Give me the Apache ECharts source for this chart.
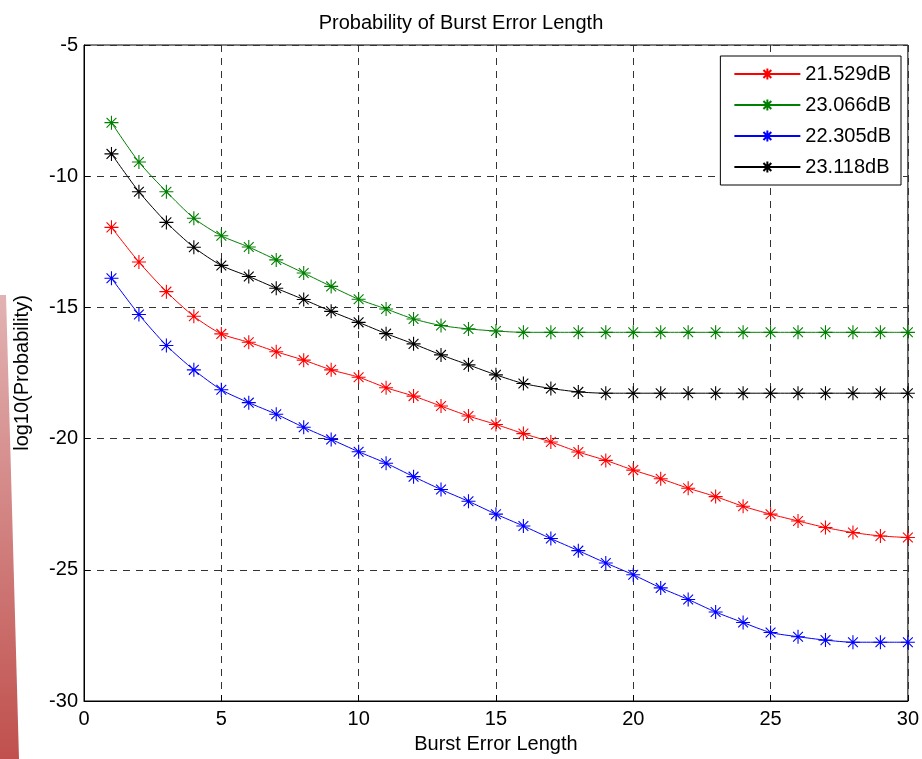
<!DOCTYPE html>
<html>
<head>
<meta charset="utf-8">
<script src="https://cdn.jsdelivr.net/npm/echarts@6/dist/echarts.min.js"></script>
<style>html,body{margin:0;padding:0;background:#fff;}#c{width:922px;height:759px;}</style>
</head>
<body>
<div id="c"></div>
<script>
const burstLength = [1,2,3,4,5,6,7,8,9,10,11,12,13,14,15,16,17,18,19,20,21,22,23,24,25,26,27,28,29,30];
const seriesNames = ['21.529dB','23.066dB','22.305dB','23.118dB'];
const red21529 = [-11.95,-13.27,-14.40,-15.34,-16.01,-16.33,-16.69,-17.01,-17.38,-17.66,-18.06,-18.38,-18.76,-19.14,-19.46,-19.81,-20.13,-20.51,-20.83,-21.20,-21.53,-21.89,-22.21,-22.58,-22.88,-23.14,-23.39,-23.58,-23.71,-23.77];
const green23066 = [-7.96,-9.46,-10.59,-11.60,-12.27,-12.70,-13.19,-13.69,-14.20,-14.69,-15.06,-15.44,-15.69,-15.82,-15.90,-15.95,-15.95,-15.95,-15.95,-15.95,-15.95,-15.95,-15.95,-15.95,-15.95,-15.95,-15.95,-15.95,-15.95,-15.95];
const blue22305 = [-13.89,-15.27,-16.45,-17.38,-18.14,-18.63,-19.07,-19.57,-20.03,-20.50,-20.94,-21.45,-21.94,-22.39,-22.88,-23.33,-23.81,-24.27,-24.74,-25.19,-25.69,-26.13,-26.61,-27.01,-27.39,-27.55,-27.68,-27.76,-27.76,-27.76];
const black23118 = [-9.15,-10.59,-11.76,-12.71,-13.40,-13.82,-14.27,-14.70,-15.15,-15.57,-16.00,-16.39,-16.81,-17.19,-17.57,-17.90,-18.09,-18.22,-18.27,-18.27,-18.27,-18.27,-18.27,-18.27,-18.27,-18.27,-18.27,-18.27,-18.27,-18.27];
const seriesValues = [red21529, green23066, blue22305, black23118];
const seriesColors = ['#ff0000','#008000','#0000ff','#000000'];

const FONT = '"Liberation Sans", Arial, sans-serif';
const star = 'path://M5,0L5,10M0,5L10,5M1.5,1.5L8.5,8.5M1.5,8.5L8.5,1.5';

const chart = echarts.init(document.getElementById('c'), null, {renderer:'canvas'});
chart.setOption({
  animation: false,
  backgroundColor: '#ffffff',
  textStyle: {fontFamily: FONT},
  title: {
    text: 'Probability of Burst Error Length',
    left: 'center', top: 8,
    textStyle: {fontFamily: FONT, fontSize: 20, fontWeight: 'normal', color: '#000'}
  },
  graphic: [{
    type: 'polygon', z: -10,
    shape: {points: [[0,295],[6,295],[19,759],[0,759]]},
    style: {fill: new echarts.graphic.LinearGradient(0,0,0,1,[{offset:0,color:'#e2b3b3'},{offset:1,color:'#c0504d'}])}
  }],
  grid: {left: 84, right: 12, top: 45, bottom: 57, show: true, borderColor: '#000', borderWidth: 1},
  legend: {
    orient: 'vertical', right: 21, top: 56,
    backgroundColor: '#fff', borderColor: '#000', borderWidth: 1,
    padding: [8, 10, 8, 13], itemGap: 11, itemWidth: 66, itemHeight: 14,
    textStyle: {fontFamily: FONT, fontSize: 20, color: '#000'},
    data: seriesNames
  },
  xAxis: {
    type: 'value', min: 0, max: 30, interval: 5,
    name: 'Burst Error Length', nameLocation: 'middle', nameGap: 33,
    nameTextStyle: {fontFamily: FONT, fontSize: 20, color: '#000'},
    axisLine: {lineStyle: {color: '#000', width: 1}},
    axisTick: {inside: true, length: 6, lineStyle: {color: '#000'}},
    axisLabel: {fontFamily: FONT, fontSize: 20, color: '#000', margin: 8},
    splitLine: {show: true, lineStyle: {color: '#333', type: [7,6], width: 1}}
  },
  yAxis: {
    type: 'value', min: -30, max: -5, interval: 5,
    name: 'log10(Probability)', nameLocation: 'middle', nameGap: 52,
    nameTextStyle: {fontFamily: FONT, fontSize: 20, color: '#000'},
    axisLine: {show: true, lineStyle: {color: '#000', width: 1}},
    axisTick: {show: true, inside: true, length: 6, lineStyle: {color: '#000'}},
    axisLabel: {fontFamily: FONT, fontSize: 20, color: '#000', margin: 6},
    splitLine: {show: true, lineStyle: {color: '#333', type: [7,6], width: 1}}
  },
  series: seriesNames.map((name, i) => ({
    name: name, type: 'line', smooth: 0.25,
    data: burstLength.map((x, j) => [x, seriesValues[i][j]]),
    symbol: star, symbolSize: 14,
    lineStyle: {color: seriesColors[i], width: 1},
    itemStyle: {color: seriesColors[i], borderColor: seriesColors[i], borderWidth: 1.1}
  }))
});
</script>
</body>
</html>
